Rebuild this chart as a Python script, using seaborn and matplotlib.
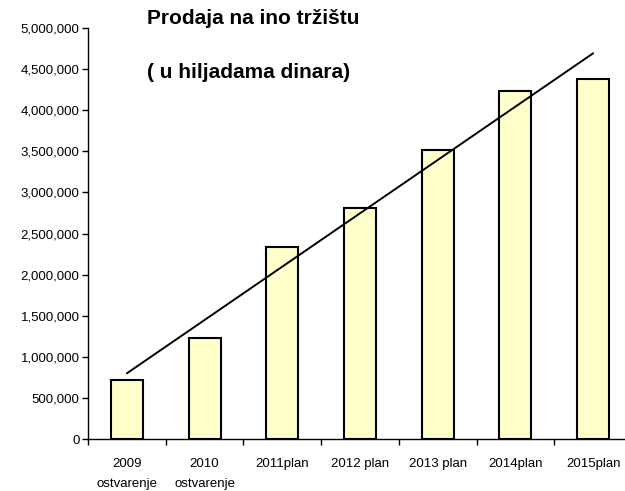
"""
Prodaja na ino tržištu - stubičasti grafikon sa linijom trenda
"""
import numpy as np
import pandas as pd
import matplotlib
matplotlib.use("Agg")
import matplotlib.pyplot as plt
import seaborn as sns
from matplotlib.ticker import FuncFormatter

# podaci (u hiljadama dinara)
godine = ["2009\nostvarenje", "2010\nostvarenje", "2011plan", "2012 plan",
          "2013 plan", "2014plan", "2015plan"]
prodaja = [720000, 1230000, 2330000, 2810000, 3520000, 4230000, 4380000]
naslov1 = "Prodaja na ino tržištu"
naslov2 = "( u hiljadama dinara)"

sns.set_theme(style="white")
plt.rcParams["font.family"] = ["Liberation Sans", "DejaVu Sans"]
plt.rcParams["text.color"] = "black"
plt.rcParams["xtick.color"] = "black"
plt.rcParams["ytick.color"] = "black"

df = pd.DataFrame({"godina": godine, "prodaja": prodaja})

fig = plt.figure(figsize=(6.25, 4.91), dpi=100)
ax = fig.add_axes([88 / 625, 52 / 491, 544 / 625, 411 / 491])

sns.barplot(data=df, x="godina", y="prodaja", color="#FFFFCC",
            edgecolor="black", linewidth=1.5, width=0.41, saturation=1, ax=ax)

# linearni trend
sns.regplot(x=np.arange(len(prodaja)), y=np.array(prodaja), scatter=False,
            ci=None, truncate=True, color="black",
            line_kws={"linewidth": 1.4}, ax=ax)

ax.set_xlim(-0.5, 6.5)
ax.set_ylim(0, 5000000)
ax.set_yticks(np.arange(0, 5000001, 500000))
ax.yaxis.set_major_formatter(FuncFormatter(lambda v, p: f"{int(v):,}"))
ax.set_xticks(np.arange(-0.5, 6.6, 1), minor=True)
ax.tick_params(axis="x", which="major", length=0, labelsize=9.5, pad=14,
               labelcolor="black")
ax.tick_params(axis="x", which="minor", length=4, width=1, color="black",
               direction="out", bottom=True)
ax.tick_params(axis="y", length=4, width=1, color="black", direction="out",
               left=True, labelsize=9.5, pad=2, labelcolor="black")
for lbl in ax.get_xticklabels():
    lbl.set_linespacing(1.8)

for side in ["top", "right"]:
    ax.spines[side].set_visible(False)
for side in ["left", "bottom"]:
    ax.spines[side].set_color("black")
    ax.spines[side].set_linewidth(1)
ax.set_xlabel("")
ax.set_ylabel("")

fig.text(147 / 625, 1 - 18 / 491, naslov1, fontsize=15, fontweight="bold",
         ha="left", va="center", color="black")
fig.text(147 / 625, 1 - 72 / 491, naslov2, fontsize=15, fontweight="bold",
         ha="left", va="center", color="black")

fig.savefig("out.png", dpi=100)
plt.close(fig)
